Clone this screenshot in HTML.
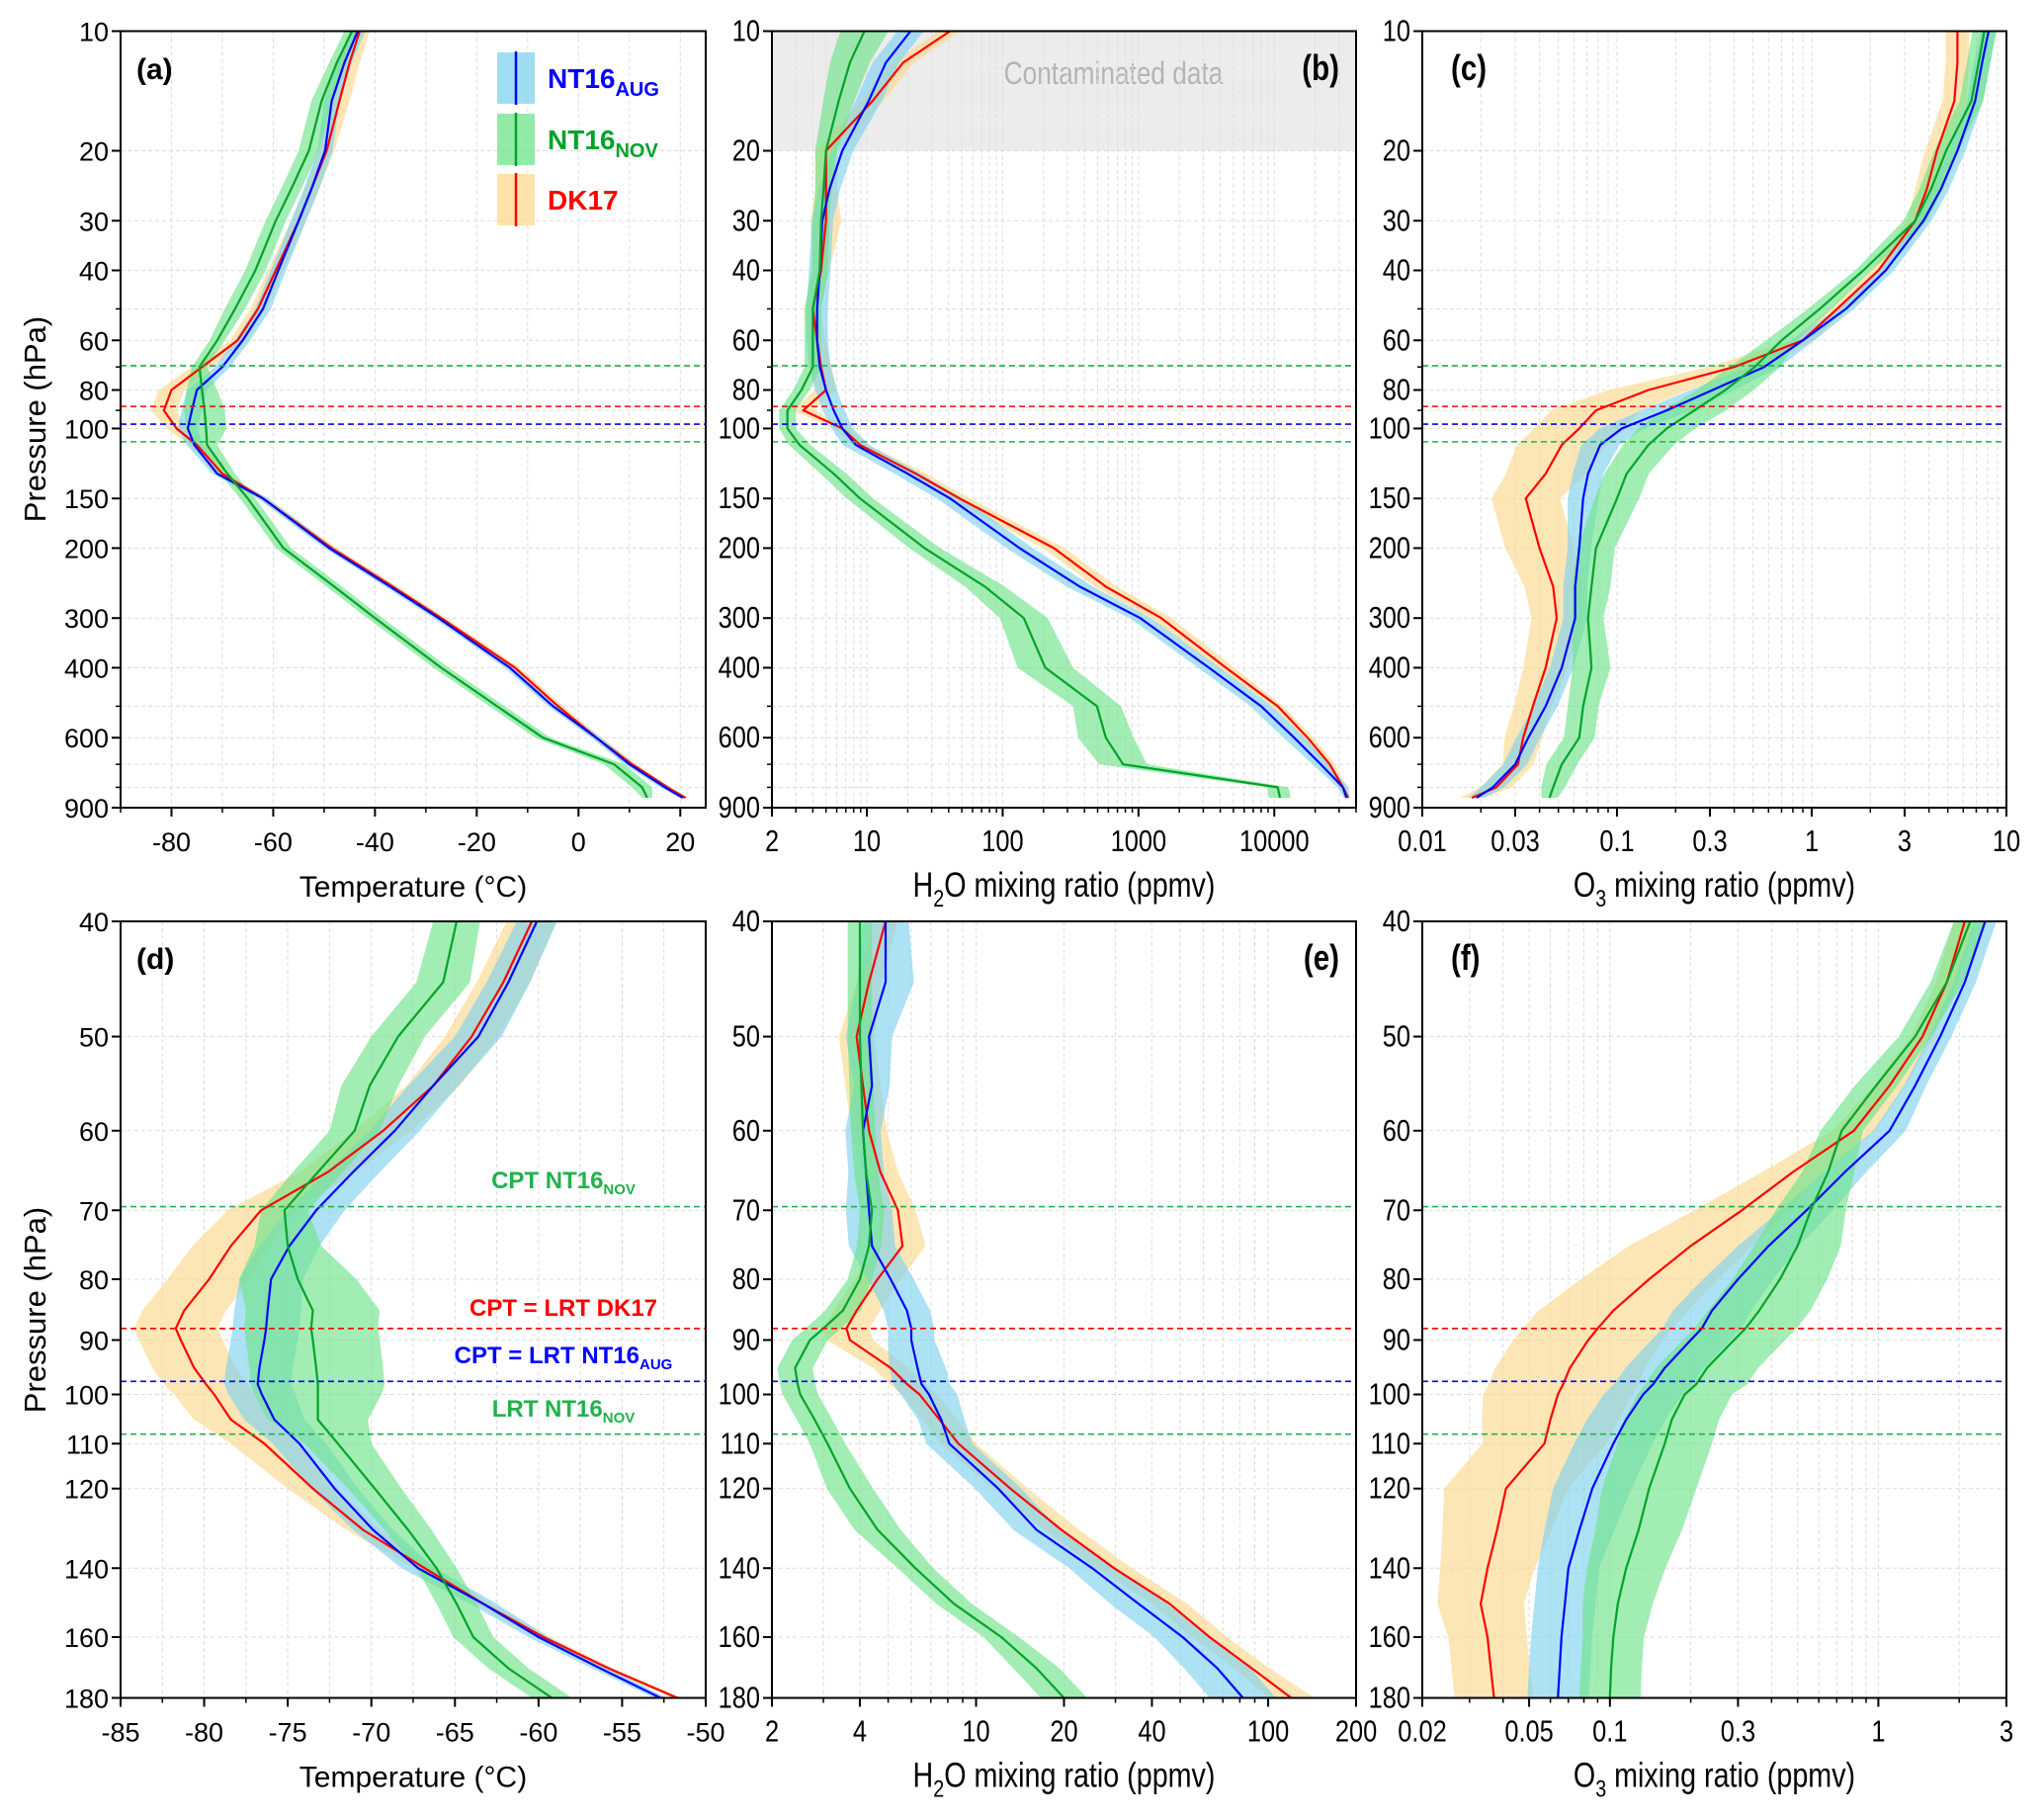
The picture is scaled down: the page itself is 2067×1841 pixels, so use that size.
<!DOCTYPE html>
<html><head><meta charset="utf-8">
<style>
html,body{margin:0;padding:0;background:#fff;}
svg{display:block;}
.ar{font-family:"Liberation Sans",sans-serif;}
.nr{font-family:"Liberation Sans Narrow","Liberation Sans",sans-serif;}
</style></head>
<body>
<svg id="fig" width="2067" height="1841" viewBox="0 0 2067 1841" xmlns="http://www.w3.org/2000/svg"></svg>
<script>
// ---------- DATA ----------
const pTop = [10,12,15,20,25,30,40,50,60,70,80,90,100,110,130,150,200,250,300,400,500,600,700,800,850];
const aAug = [-43.4,-46,-48.5,-49.8,-52.5,-55,-59,-62,-66,-70,-75,-76,-76.8,-75.5,-71,-62,-49,-37,-27.5,-13.5,-5,3.5,10,17,20.5];
const aNov = [-44.5,-47.5,-50.5,-53,-56.5,-59.5,-63.5,-67.5,-71,-74.5,-74,-73.5,-73.2,-73,-69,-65,-58,-48,-40,-27,-16,-7,7,12.5,13.5];
const aDk  = [-43,-45,-47,-49.5,-52.5,-55,-59.5,-63,-67,-74,-80,-81.5,-79,-75,-70,-62,-48.5,-36.5,-27,-12.5,-4,3.5,10.5,17.5,21];
const aAugS = [1.5,1.5,1.5,1.5,1.5,1.5,1.5,1.5,1.5,1.5,2,2,2,1.5,1,1,1,1,1,1,1,1,1,1,0.5];
const aNovS = [1.5,1.5,2,2,2,2,2,2,1.5,1.5,3,4,4,2,1.5,1.5,1.5,1.5,1.5,1.5,1.5,1.5,2,2,1];
const aDkS  = [2,2,2,1.5,1.5,1.5,1.5,1.5,1.5,2,2.5,2.5,2,1.5,1,1,1,1,1,1,1,1,1,0.5,0.5];
const bAug = [21,13.8,10.3,6.6,5.3,4.7,4.5,4.3,4.3,4.5,5,5.7,6.6,8.3,20,41,133,370,1030,3300,8000,14000,22000,32000,34000];
const bNov = [9.6,7.5,6.2,5,4.8,4.6,4.5,4,4,4,3.3,2.6,2.6,3.2,5.7,8.9,26.6,74,143,206,495,575,770,10600,11000];
const bDk  = [41,18.5,11,5,5,5,4.6,4,4.3,4.6,5,3.4,6.6,8.9,23,48,238,575,1470,4400,10600,17600,25600,32000,35000];
const bAugS = [1.25,1.25,1.25,1.2,1.2,1.2,1.2,1.2,1.2,1.2,1.2,1.2,1.2,1.25,1.25,1.25,1.25,1.25,1.2,1.2,1.2,1.2,1.15,1.1,1.05];
const bNovS = [1.5,1.4,1.3,1.2,1.15,1.15,1.15,1.15,1.15,1.15,1.15,1.15,1.15,1.2,1.25,1.25,1.3,1.4,1.5,1.6,1.5,1.6,1.5,1.2,1.2];
const bDkS  = [1.2,1.2,1.2,1.2,1.2,1.3,1.15,1.15,1.15,1.2,1.2,1.2,1.15,1.15,1.2,1.2,1.2,1.2,1.2,1.15,1.1,1.1,1.1,1.05,1.05];
const cAug = [8.1,7.5,6.9,5.6,4.6,3.75,2.4,1.5,0.9,0.57,0.31,0.18,0.106,0.082,0.071,0.067,0.064,0.061,0.061,0.052,0.043,0.035,0.03,0.023,0.019];
const cNov = [7.7,7.2,6.6,4.9,4.1,3.4,1.84,1.1,0.7,0.51,0.36,0.25,0.18,0.145,0.112,0.1,0.078,0.074,0.071,0.074,0.067,0.064,0.052,0.047,0.045];
const cDk  = [5.6,5.6,5.4,4.4,3.9,3.4,2.2,1.35,0.9,0.4,0.145,0.078,0.064,0.052,0.043,0.034,0.04,0.047,0.049,0.043,0.037,0.033,0.031,0.024,0.018];
const cAugS = [1.1,1.1,1.1,1.1,1.1,1.1,1.1,1.1,1.15,1.2,1.3,1.35,1.3,1.25,1.2,1.2,1.15,1.15,1.15,1.15,1.15,1.15,1.15,1.15,1.1];
const cNovS = [1.15,1.15,1.15,1.15,1.15,1.15,1.1,1.15,1.2,1.35,1.4,1.45,1.4,1.35,1.3,1.3,1.25,1.25,1.2,1.25,1.2,1.2,1.2,1.15,1.1];
const cDkS  = [1.15,1.15,1.15,1.15,1.15,1.1,1.1,1.1,1.15,1.35,1.6,1.7,1.7,1.7,1.6,1.5,1.5,1.4,1.35,1.3,1.25,1.25,1.2,1.2,1.15];
const pBot = [40,45,50,55,60,65,70,75,80,85,88,90,95,98,100,105,110,120,130,140,150,160,170,180];
const dAug = [-60.1,-61.8,-63.6,-66.3,-68.6,-71.1,-73.3,-74.9,-76,-76.2,-76.3,-76.4,-76.7,-76.8,-76.55,-75.8,-74.3,-72.2,-69.9,-67.2,-63.3,-60,-56.3,-52.7];
const dNov = [-64.9,-65.7,-68.4,-70.1,-71,-73.2,-75.2,-75,-74.4,-73.5,-73.6,-73.5,-73.3,-73.2,-73.2,-73.2,-72,-69.8,-67.8,-66.1,-64.9,-63.9,-61.8,-59.2];
const dDk  = [-60.4,-62.1,-64,-66.3,-69.3,-72.6,-76.6,-78.4,-79.7,-81.2,-81.7,-81.4,-80.6,-79.9,-79.4,-78.4,-76.4,-73.5,-70.5,-66.8,-63.3,-59.7,-55.8,-51.7];
const dAugS = [1.2,1.3,1.4,1.5,1.5,1.6,1.7,1.8,1.9,2,2,2,2,2,2,1.8,1.6,1.4,1.2,1,0.8,0.6,0.5,0.4];
const dNovS = [1.4,1.6,1.6,1.7,1.5,1.5,1.4,2,3.5,4,4,4,4,4,3.8,3,2,1.6,1.4,1.2,1.2,1.2,1.2,1.2];
const dDkS  = [1.5,1.6,1.6,1.6,1.7,1.7,2,2.3,2.5,2.5,2.5,2.5,2.5,2.5,2.4,2.2,2,1.5,1,0.7,0.5,0.4,0.3,0.3];
const eAug = [4.9,4.9,4.3,4.4,4.1,4.2,4.3,4.4,5.1,5.8,6,6,6.3,6.5,6.9,7.6,8.1,11.9,16.1,25,36,51,67,82];
const eNov = [4,4,4,4.05,4.1,4.2,4.4,4.3,4,3.5,3,2.7,2.4,2.45,2.5,2.8,3.1,3.7,4.6,6.2,8.4,12.2,16.1,20];
const eDk  = [4.9,4.3,3.9,4.1,4.3,4.7,5.4,5.6,4.6,3.9,3.6,3.7,5.1,5.8,6.4,7.5,8.7,13.1,19.6,29.7,46,63,88,120];
const eAugS = [1.2,1.25,1.2,1.15,1.15,1.15,1.2,1.2,1.2,1.2,1.2,1.2,1.25,1.25,1.25,1.2,1.2,1.2,1.2,1.2,1.25,1.25,1.3,1.3];
const eNovS = [1.1,1.1,1.1,1.1,1.1,1.1,1.1,1.1,1.1,1.15,1.15,1.15,1.15,1.15,1.15,1.15,1.15,1.2,1.2,1.15,1.15,1.15,1.2,1.2];
const eDkS  = [1.1,1.1,1.15,1.15,1.15,1.15,1.15,1.2,1.2,1.2,1.2,1.2,1.15,1.15,1.15,1.15,1.15,1.15,1.15,1.15,1.15,1.15,1.15,1.2];
const fAug = [2.5,2.1,1.7,1.37,1.1,0.75,0.54,0.39,0.3,0.24,0.22,0.2,0.16,0.145,0.133,0.115,0.103,0.086,0.077,0.07,0.068,0.066,0.065,0.064];
const fNov = [2.2,1.8,1.37,0.98,0.73,0.65,0.56,0.5,0.43,0.36,0.32,0.29,0.23,0.21,0.19,0.17,0.16,0.14,0.128,0.115,0.107,0.103,0.101,0.1];
const fDk  = [2.1,1.8,1.46,1.1,0.81,0.48,0.31,0.2,0.14,0.103,0.09,0.083,0.071,0.067,0.064,0.06,0.057,0.041,0.038,0.035,0.033,0.035,0.036,0.037];
const fAugS = [1.1,1.1,1.1,1.1,1.15,1.2,1.25,1.3,1.35,1.4,1.4,1.4,1.4,1.4,1.4,1.4,1.4,1.4,1.35,1.3,1.3,1.3,1.3,1.3];
const fNovS = [1.15,1.15,1.15,1.2,1.2,1.25,1.35,1.45,1.5,1.55,1.55,1.55,1.55,1.55,1.5,1.5,1.5,1.5,1.45,1.4,1.35,1.3,1.3,1.3];
const fDkS  = [1.1,1.1,1.1,1.15,1.2,1.3,1.5,1.7,1.8,1.9,1.9,1.9,1.9,1.9,1.9,1.8,1.7,1.7,1.6,1.5,1.45,1.4,1.4,1.4];
const tropoLevels = [69.5,88,97.5,108];
const tropoColors = ['#22b14c','#ff0000','#0000ff','#22b14c'];
// ---------- DRAWING ----------
const NS='http://www.w3.org/2000/svg';
const svg=document.getElementById('fig');
function mk(tag,attrs,parent){const e=document.createElementNS(NS,tag);for(const k in attrs)e.setAttribute(k,attrs[k]);(parent||svg).appendChild(e);return e;}
// narrow text helper: positions via transform and compresses horizontally
function txt(x,y,attrs,parent,narrow){
  const a=Object.assign({},attrs);
  if(narrow){a.x=0;a.y=0;a.transform='translate('+x+','+y+') scale(0.82,1)';}
  else{a.x=x;a.y=y;}
  return mk('text',a,parent);
}
const COL={aug:{line:'#0000ff',band:'#7fd3ee'},nov:{line:'#00a32a',band:'#6ee38a'},dk:{line:'#ff0000',band:'#fcd98d'}};

function panel(cfg){
  const g=mk('g',{});
  
  
  const {x0,x1,y0,y1,pMin,pMax}=cfg;
  const nar=cfg.font==='nr';
  const Y=p=>y0+(Math.log10(p)-Math.log10(pMin))/(Math.log10(pMax)-Math.log10(pMin))*(y1-y0);
  const X=cfg.log? v=>x0+(Math.log10(v)-Math.log10(cfg.xMin))/(Math.log10(cfg.xMax)-Math.log10(cfg.xMin))*(x1-x0)
                  : v=>x0+(v-cfg.xMin)/(cfg.xMax-cfg.xMin)*(x1-x0);
  const clip='clip-'+cfg.id;
  const cp=mk('clipPath',{id:clip},g);mk('rect',{x:x0,y:y0,width:x1-x0,height:y1-y0},cp);
  if(cfg.contam){
    const r=mk('rect',{x:x0,y:Y(10),width:x1-x0,height:Y(20)-Y(10),fill:'#ececec'},g);
    
    
    const t=txt((x0+x1)/2+50,Y(13.6),{'text-anchor':'middle',fill:'#b4b4b4','font-size':32,class:'nr'},g,true);t.textContent='Contaminated data';
    
    
  }
  const gg=mk('g',{stroke:'#dcdcdc','stroke-width':1,'stroke-dasharray':'4,3'},g);
  
  
  cfg.yTicks.concat(cfg.yMinor).forEach(p=>mk('line',{x1:x0,x2:x1,y1:Y(p),y2:Y(p)},gg));
  cfg.xTicks.concat(cfg.xMinor).forEach(v=>mk('line',{x1:X(v),x2:X(v),y1:y0,y2:y1},gg));
  const sg=mk('g',{'clip-path':'url(#'+clip+')'},g);
  cfg.series.forEach(s=>{
    const lo=s.v.map((v,i)=>cfg.log? v/s.s[i] : v-s.s[i]);
    const hi=s.v.map((v,i)=>cfg.log? v*s.s[i] : v+s.s[i]);
    let pts=cfg.p.map((p,i)=>X(lo[i]).toFixed(1)+','+Y(p).toFixed(1));
    pts=pts.concat(cfg.p.map((p,i)=>X(hi[i]).toFixed(1)+','+Y(p).toFixed(1)).reverse());
    const b=mk('polygon',{points:pts.join(' '),fill:COL[s.k].band,'fill-opacity':0.65,stroke:'none'},sg);
    
    
  });
  cfg.series.forEach(s=>{
    const l=mk('polyline',{points:cfg.p.map((p,i)=>X(s.v[i]).toFixed(1)+','+Y(p).toFixed(1)).join(' '),fill:'none',stroke:COL[s.k].line,'stroke-width':2.2,'stroke-linejoin':'round'},sg);
    
    
  });
  tropoLevels.forEach((p,i)=>{
    if(p<pMin||p>pMax)return;
    const l=mk('line',{x1:x0,x2:x1,y1:Y(p),y2:Y(p),stroke:tropoColors[i],'stroke-width':1.6,'stroke-dasharray':'6,4'},g);
    
    
  });
  const f=mk('rect',{x:x0,y:y0,width:x1-x0,height:y1-y0,fill:'none',stroke:'#000','stroke-width':2},g);
  
  
  const fc=cfg.font;
  cfg.yTicks.forEach(p=>{
    mk('line',{x1:x0-9,x2:x0,y1:Y(p),y2:Y(p),stroke:'#000','stroke-width':2},g);
    const t=txt(x0-12,Y(p)+10,{'text-anchor':'end','font-size':nar?31:27,class:fc},g,nar);t.textContent=p;
    
    
  });
  cfg.yMinor.forEach(p=>mk('line',{x1:x0-5,x2:x0,y1:Y(p),y2:Y(p),stroke:'#000','stroke-width':1.5},g));
  cfg.xTicks.forEach((v,i)=>{
    mk('line',{x1:X(v),x2:X(v),y1:y1,y2:y1+9,stroke:'#000','stroke-width':2},g);
    const t=txt(X(v),y1+44,{'text-anchor':'middle','font-size':nar?31:27,class:fc},g,nar);t.textContent=cfg.xLabels[i];
    
    
  });
  cfg.xMinor.forEach(v=>mk('line',{x1:X(v),x2:X(v),y1:y1,y2:y1+5,stroke:'#000','stroke-width':1.5},g));
  const tt=txt((x0+x1)/2,y1+90,{'text-anchor':'middle','font-size':nar?35:30,class:fc},g,nar);
  
  
  if(cfg.sp){
    const a=mk('tspan',{},tt);a.textContent=cfg.title[0];
    const s=mk('tspan',{dy:10,'font-size':24},tt);s.textContent=cfg.sp;
    const c=mk('tspan',{dy:-10},tt);c.textContent=cfg.title[1];
  } else tt.textContent=cfg.title;
  const pl=txt(cfg.lab[0],cfg.lab[1],{'text-anchor':cfg.lab[2],'font-size':nar?36:30,'font-weight':'bold',class:fc},g,nar);
  pl.textContent=cfg.label;
  
  
  return {X,Y};
}
function logMinor(a,b){const r=[];for(let e=Math.floor(Math.log10(a));e<=Math.ceil(Math.log10(b));e++)for(let m=1;m<10;m++){const v=m*Math.pow(10,e);if(v>=a*0.999&&v<=b*1.001)r.push(v);}return r;}

const topY={y0:31.5,y1:817,pMin:10,pMax:900,p:pTop,yTicks:[10,20,30,40,60,80,100,150,200,300,400,600,900],yMinor:[50,70,90,500,700,800]};
const botY={y0:932,y1:1717.5,pMin:40,pMax:180,p:pBot,yTicks:[40,50,60,70,80,90,100,110,120,140,160,180],yMinor:[]};

panel(Object.assign({},topY,{id:'a',name:'panel-a-temperature',x0:122,x1:714,xMin:-90,xMax:25,log:false,
  xTicks:[-80,-60,-40,-20,0,20],xLabels:['-80','-60','-40','-20','0','20'],xMinor:[-90,-70,-50,-30,-10,10],
  series:[{k:'dk',v:aDk,s:aDkS},{k:'aug',v:aAug,s:aAugS},{k:'nov',v:aNov,s:aNovS}],
  font:'ar',title:'Temperature (°C)',label:'(a)',lab:[138,80,'start']}));
panel(Object.assign({},topY,{id:'b',name:'panel-b-water-vapour',x0:781,x1:1372,xMin:2,xMax:40000,log:true,contam:true,
  xTicks:[2,10,100,1000,10000],xLabels:['2','10','100','1000','10000'],xMinor:logMinor(2,40000).filter(v=>![2,10,100,1000,10000].includes(v)),
  series:[{k:'dk',v:bDk,s:bDkS},{k:'aug',v:bAug,s:bAugS},{k:'nov',v:bNov,s:bNovS}],
  font:'nr',title:['H','O mixing ratio (ppmv)'],sp:'2',label:'(b)',lab:[1355,81,'end']}));
panel(Object.assign({},topY,{id:'c',name:'panel-c-ozone',x0:1439,x1:2030,xMin:0.01,xMax:10,log:true,
  xTicks:[0.01,0.03,0.1,0.3,1,3,10],xLabels:['0.01','0.03','0.1','0.3','1','3','10'],xMinor:logMinor(0.01,10).filter(v=>![0.01,0.03,0.1,0.3,1,3,10].some(t=>Math.abs(t-v)<1e-9)),
  series:[{k:'dk',v:cDk,s:cDkS},{k:'aug',v:cAug,s:cAugS},{k:'nov',v:cNov,s:cNovS}],
  font:'nr',title:['O',' mixing ratio (ppmv)'],sp:'3',label:'(c)',lab:[1468,81,'start']}));
panel(Object.assign({},botY,{id:'d',name:'panel-d-temperature-zoom',x0:122,x1:714,xMin:-85,xMax:-50,log:false,
  xTicks:[-85,-80,-75,-70,-65,-60,-55,-50],xLabels:['-85','-80','-75','-70','-65','-60','-55','-50'],xMinor:[-82.5,-77.5,-72.5,-67.5,-62.5,-57.5,-52.5],
  series:[{k:'dk',v:dDk,s:dDkS},{k:'aug',v:dAug,s:dAugS},{k:'nov',v:dNov,s:dNovS}],
  font:'ar',title:'Temperature (°C)',label:'(d)',lab:[138,980,'start']}));
panel(Object.assign({},botY,{id:'e',name:'panel-e-water-vapour-zoom',x0:781,x1:1372,xMin:2,xMax:200,log:true,
  xTicks:[2,4,10,20,40,100,200],xLabels:['2','4','10','20','40','100','200'],xMinor:logMinor(2,200).filter(v=>![2,4,10,20,40,100,200].includes(v)),
  series:[{k:'dk',v:eDk,s:eDkS},{k:'aug',v:eAug,s:eAugS},{k:'nov',v:eNov,s:eNovS}],
  font:'nr',title:['H','O mixing ratio (ppmv)'],sp:'2',label:'(e)',lab:[1355,981,'end']}));
panel(Object.assign({},botY,{id:'f',name:'panel-f-ozone-zoom',x0:1439,x1:2030,xMin:0.02,xMax:3,log:true,
  xTicks:[0.02,0.05,0.1,0.3,1,3],xLabels:['0.02','0.05','0.1','0.3','1','3'],xMinor:logMinor(0.02,3).filter(v=>![0.02,0.05,0.1,0.3,1,3].some(t=>Math.abs(t-v)<1e-9)),
  series:[{k:'dk',v:fDk,s:fDkS},{k:'aug',v:fAug,s:fAugS},{k:'nov',v:fNov,s:fNovS}],
  font:'nr',title:['O',' mixing ratio (ppmv)'],sp:'3',label:'(f)',lab:[1468,981,'start']}));

[[424],[1325]].forEach(([cy])=>{
  const t=mk('text',{x:0,y:0,transform:'translate(46,'+cy+') rotate(-90)','text-anchor':'middle','font-size':31,class:'ar'});
  t.textContent='Pressure (hPa)';
  
  
});
const lg=mk('g',{});


[['aug','NT16','AUG',79],['nov','NT16','NOV',141],['dk','DK17','',202]].forEach(([k,a,b,cy])=>{
  const e=mk('g',{},lg);
  
  
  mk('rect',{x:503,y:cy-26,width:38,height:52,fill:COL[k].band,'fill-opacity':0.75},e);
  mk('line',{x1:522,x2:522,y1:cy-27,y2:cy+27,stroke:COL[k].line,'stroke-width':2.5},e);
  const t=mk('text',{x:554,y:cy+10,'font-size':28,'font-weight':'bold',fill:COL[k].line,class:'ar'},e);
  const s1=mk('tspan',{},t);s1.textContent=a;
  if(b){const s2=mk('tspan',{dy:8,'font-size':20},t);s2.textContent=b;}
});
[['CPT NT16','NOV',1202,'#22b14c'],['CPT = LRT DK17','',1331,'#ff0000'],['CPT = LRT NT16','AUG',1379,'#0000ff'],['LRT NT16','NOV',1433,'#22b14c']].forEach(([a,b,y,c])=>{
  const t=mk('text',{x:570,y:y,'text-anchor':'middle','font-size':24,'font-weight':'bold',fill:c,class:'ar'});
  
  
  const s1=mk('tspan',{},t);s1.textContent=a;
  if(b){const s2=mk('tspan',{dy:6,'font-size':15},t);s2.textContent=b;}
});
</script>
</body></html>
